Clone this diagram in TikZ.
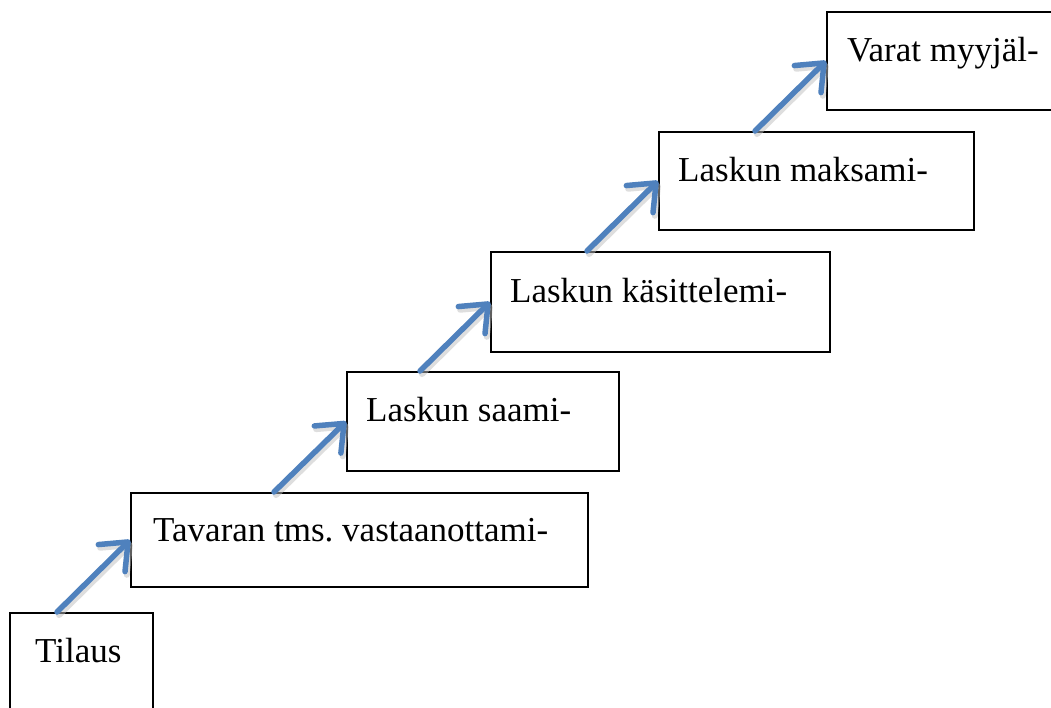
\documentclass[tikz,border=0pt]{standalone}
\usepackage{fontspec}
\setmainfont{Liberation Serif}
\usetikzlibrary{arrows.meta,calc}
\definecolor{arrowblue}{HTML}{4F81BD}
\frenchspacing
\tikzset{
  box/.style={draw=black, line width=2pt, rectangle, inner sep=0pt},
  lbl/.style={anchor=base west, inner sep=0pt, font=\fontsize{35}{40}\selectfont},
  step arrow/.style={draw=arrowblue, line width=5.5pt, line cap=round,
    -{Straight Barb[length=23pt, width=38pt, round]}},
  step shadow/.style={draw=black!25, opacity=0.5, line width=6pt, line cap=round,
    -{Straight Barb[length=23pt, width=38pt, round]}},
}
\begin{document}
\begin{tikzpicture}[x=1pt,y=-1pt]
\useasboundingbox (0,0) rectangle (1051,707);
\clip (0,0) rectangle (1051,707);
\fill[white] (0,0) rectangle (1051,707);
% boxes (corners in pixel coordinates)
\node[box, minimum width=143pt, minimum height=120pt, anchor=north west] (b1) at (9,612) {};
\node[box, minimum width=457pt, minimum height=94pt, anchor=north west] (b2) at (130,492) {};
\node[box, minimum width=272pt, minimum height=99pt, anchor=north west] (b3) at (346,371) {};
\node[box, minimum width=339pt, minimum height=100pt, anchor=north west] (b4) at (490,251) {};
\node[box, minimum width=315pt, minimum height=98pt, anchor=north west] (b5) at (658,131) {};
\node[box, minimum width=260pt, minimum height=98pt, anchor=north west] (b6) at (826,11) {};
% labels
\node[lbl] (t1) at ($(b1.north west)+(26,50)$) {Tilaus};
\node[lbl] (t2) at ($(b2.north west)+(23,49)$) {Tavaran tms. vastaanottami-};
\node[lbl] (t3) at ($(b3.north west)+(20,50)$) {Laskun saami-};
\node[lbl] (t4) at ($(b4.north west)+(20,51)$) {Laskun käsittelemi-};
\node[lbl] (t5) at ($(b5.north west)+(20,50)$) {Laskun maksami-};
\node[lbl] (t6) at ($(b6.north west)+(21,50)$) {Varat myyjäl-};
% arrow start points on the top edges
\coordinate (s1) at ($(b1.north west)+(48,0)$);
\coordinate (s2) at ($(b2.north west)+(144,0)$);
\coordinate (s3) at ($(b3.north west)+(74,0)$);
\coordinate (s4) at ($(b4.north west)+(97,0)$);
\coordinate (s5) at ($(b5.north west)+(97,0)$);
% shadows
\foreach \s/\e in {s1/b2, s2/b3, s3/b4, s4/b5, s5/b6}{
  \draw[step shadow] ($(\s)+(2,3)$) -- ($(\e.west)+(2,3)$);
}
% arrows
\draw[step arrow] (s1) -- (b2.west);
\draw[step arrow] (s2) -- (b3.west);
\draw[step arrow] (s3) -- (b4.west);
\draw[step arrow] (s4) -- (b5.west);
\draw[step arrow] (s5) -- (b6.west);
\end{tikzpicture}
\end{document}
